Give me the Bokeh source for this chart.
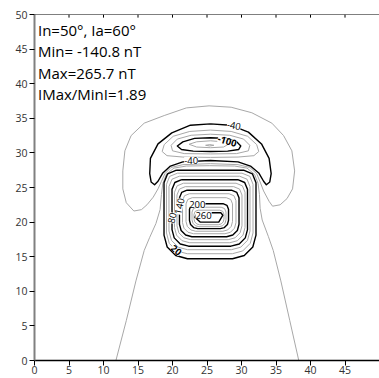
from bokeh.plotting import figure
from bokeh.models import Label, Range1d, FixedTicker, Span
from bokeh.embed import file_html
from bokeh.resources import INLINE

# ---------------- data ----------------
ticks = [0, 5, 10, 15, 20, 25, 30, 35, 40, 45, 50]
info_lines = ["In=50°, Ia=60°", "Min= -140.8 nT", "Max=265.7 nT", "IMax/MinI=1.89"]

# contour levels (nT); black = labelled/index levels
# -20 (grey)
c_m20_x = [25.3, 28.5, 31.5, 34.4, 36.1, 37.3, 37.7, 37.4, 36.6, 35.6, 34.5, 34.0, 33.2, 32.7, 32.2, 31.2, 29.5, 25.5,
           21.5, 19.8, 18.9, 18.4, 17.9, 17.2, 16.3, 15.5, 14.4, 13.3, 12.8, 12.8, 13.1, 14.0, 15.9, 18.8, 22.0, 25.3]
c_m20_y = [36.8, 36.6, 35.8, 34.3, 32.5, 30.3, 27.4, 24.8, 23.4, 22.5, 22.3, 23.0, 24.5, 25.8, 27.0, 27.9, 28.3, 28.45,
           28.3, 27.9, 27.0, 25.9, 24.8, 23.6, 22.5, 21.8, 21.6, 22.8, 24.8, 27.4, 30.3, 32.5, 34.3, 35.4, 36.5, 36.8]
# -40 (black)
c_m40_x = [25.5, 28.4, 31.0, 32.9, 34.0, 34.3, 34.1, 33.6, 33.2, 32.5, 31.3, 29.5, 25.5, 21.5, 19.7, 18.6, 17.9, 17.4,
           16.9, 16.7, 16.8, 17.9, 19.9, 22.6, 25.5]
c_m40_y = [34.2, 34.0, 33.0, 31.3, 29.2, 27.0, 25.8, 25.4, 25.9, 27.1, 28.1, 28.7, 28.9, 28.7, 28.1, 27.1, 25.9, 25.4,
           25.8, 27.0, 29.2, 31.3, 32.9, 34.0, 34.2]
# -60 (grey)
c_m60_x = [25.5, 28.5, 30.9, 32.2, 32.5, 31.8, 29.5, 25.5, 21.5, 19.2, 18.5, 18.8, 20.1, 22.5, 25.5]
c_m60_y = [33.3, 33.1, 32.4, 31.2, 30.2, 29.6, 29.4, 29.35, 29.4, 29.6, 30.2, 31.2, 32.4, 33.1, 33.3]
# -80 (grey)
c_m80_x = [25.5, 28.3, 30.3, 31.2, 31.0, 29.3, 25.5, 21.7, 20.0, 19.8, 20.7, 22.7, 25.5]
c_m80_y = [32.7, 32.55, 32.0, 31.1, 30.3, 29.9, 29.85, 29.9, 30.3, 31.1, 32.0, 32.55, 32.7]
# -100 (black)
c_m100_x = [25.5, 27.8, 29.3, 29.9, 29.6, 28.0, 25.5, 23.0, 21.3, 20.7, 21.5, 23.2, 25.5]
c_m100_y = [32.2, 32.1, 31.6, 31.0, 30.5, 30.25, 30.2, 30.25, 30.5, 31.0, 31.6, 32.1, 32.2]
# -120 (grey)
c_m120_x = [25.5, 27.3, 28.1, 27.4, 25.5, 23.5, 22.4, 23.5, 25.5]
c_m120_y = [31.75, 31.6, 31.25, 30.85, 30.75, 30.85, 31.25, 31.6, 31.75]
# -140 (grey)
c_m140_x = [24.8, 25.4, 26.0, 25.4, 24.8]
c_m140_y = [31.1, 31.2, 31.1, 31.0, 31.1]
# 0 (grey, open to the south)
c_0_x = [11.8, 13.3, 14.7, 15.9, 16.7, 17.6, 18.2, 18.4, 18.6, 19.1, 20.2, 22.0, 25.4,
         29.0, 30.8, 31.9, 32.4, 32.6, 32.7, 33.0, 33.9, 34.6, 35.7, 37.0, 38.3]
c_0_y = [0.0, 5.75, 11.5, 15.9, 17.8, 19.8, 21.8, 24.0, 25.6, 26.9, 27.8, 28.1, 28.15,
         28.1, 27.8, 26.9, 25.6, 24.0, 22.0, 20.3, 17.9, 15.9, 11.5, 5.75, 0.0]
# positive closed contours
c_20_x = [20.57, 30.30, 31.58, 32.10, 32.10, 31.64, 30.40, 28.70, 22.17, 20.47, 19.23, 18.77, 18.77, 19.29]
c_20_y = [27.50, 27.50, 26.98, 25.70, 18.11, 16.41, 15.17, 14.71, 14.71, 15.17, 16.41, 18.11, 25.70, 26.98]
c_40_x = [20.73, 30.07, 31.21, 31.67, 31.67, 31.27, 30.17, 28.67, 22.13, 20.63, 19.53, 19.13, 19.13, 19.59]
c_40_y = [27.07, 27.07, 26.61, 25.47, 18.43, 16.93, 15.83, 15.43, 15.43, 15.83, 16.93, 18.43, 25.47, 26.61]
c_60_x = [20.99, 29.73, 30.80, 31.23, 31.23, 30.87, 29.88, 28.53, 22.19, 20.84, 19.85, 19.49, 19.49, 19.93]
c_60_y = [26.63, 26.63, 26.20, 25.13, 18.71, 17.36, 16.37, 16.01, 16.01, 16.37, 17.36, 18.71, 25.13, 26.20]
c_80_x = [21.33, 29.47, 30.46, 30.87, 30.87, 30.55, 29.67, 28.47, 22.33, 21.13, 20.25, 19.93, 19.93, 20.34]
c_80_y = [26.13, 26.13, 25.72, 24.73, 18.92, 17.72, 16.84, 16.52, 16.52, 16.84, 17.72, 18.92, 24.73, 25.72]
c_100_x = [21.59, 29.21, 30.13, 30.51, 30.51, 30.22, 29.41, 28.31, 22.49, 21.39, 20.58, 20.29, 20.29, 20.67]
c_100_y = [25.62, 25.62, 25.24, 24.32, 19.22, 18.12, 17.31, 17.02, 17.02, 17.31, 18.12, 19.22, 24.32, 25.24]
c_120_x = [21.85, 28.87, 29.72, 30.07, 30.07, 29.80, 29.07, 28.07, 22.65, 21.65, 20.92, 20.65, 20.65, 21.00]
c_120_y = [25.12, 25.12, 24.77, 23.92, 19.46, 18.46, 17.73, 17.46, 17.46, 17.73, 18.46, 19.46, 23.92, 24.77]
c_140_x = [22.11, 28.54, 29.32, 29.64, 29.64, 29.40, 28.74, 27.84, 22.81, 21.91, 21.25, 21.01, 21.01, 21.33]
c_140_y = [24.61, 24.61, 24.29, 23.51, 19.69, 18.79, 18.13, 17.89, 17.89, 18.13, 18.79, 19.69, 23.51, 24.29]
c_160_x = [22.45, 28.20, 28.91, 29.20, 29.20, 28.99, 28.40, 27.60, 23.05, 22.25, 21.66, 21.45, 21.45, 21.74]
c_160_y = [24.10, 24.10, 23.81, 23.10, 19.92, 19.12, 18.53, 18.32, 18.32, 18.53, 19.12, 19.92, 23.10, 23.81]
c_180_x = [22.86, 27.80, 28.44, 28.70, 28.70, 28.51, 28.00, 27.30, 23.36, 22.66, 22.15, 21.96, 21.96, 22.22]
c_180_y = [23.53, 23.53, 23.27, 22.63, 20.08, 19.38, 18.87, 18.68, 18.68, 18.87, 19.38, 20.08, 22.63, 23.27]
c_200_x = [23.26, 27.32, 27.89, 28.12, 28.12, 27.96, 27.52, 26.92, 23.66, 23.06, 22.62, 22.46, 22.46, 22.69]
c_200_y = [22.66, 22.66, 22.43, 21.86, 20.25, 19.65, 19.21, 19.05, 19.05, 19.21, 19.65, 20.25, 21.86, 22.43]
c_220_x = [23.53, 27.05, 27.55, 27.75, 27.75, 27.62, 27.25, 26.75, 23.83, 23.33, 22.96, 22.83, 22.83, 23.03]
c_220_y = [22.15, 22.15, 21.95, 21.45, 20.34, 19.84, 19.47, 19.34, 19.34, 19.47, 19.84, 20.34, 21.45, 21.95]
c_240_x = [23.72, 26.86, 27.29, 27.46, 27.46, 27.35, 27.06, 26.66, 23.92, 23.52, 23.23, 23.12, 23.12, 23.29]
c_240_y = [21.72, 21.72, 21.55, 21.12, 20.42, 20.02, 19.73, 19.62, 19.62, 19.73, 20.02, 20.42, 21.12, 21.55]
c_260_x = [23.6, 27.0, 27.3, 26.7, 24.0, 23.25]
c_260_y = [21.36, 21.36, 21.0, 20.0, 20.0, 20.7]

# contour labels
lab_text = ["-40", "-100", "-40", "200", "260", "140", "80", "20"]
lab_x = [28.9, 27.9, 22.7, 23.6, 24.5, 21.0, 19.93, 20.5]
lab_y = [33.95, 31.65, 28.9, 22.6, 20.95, 22.3, 20.6, 15.9]
lab_angle = [-0.17, -0.3, 0.0, 0.0, 0.0, 1.35, 1.35, -0.7]
lab_bold = [False, True, False, False, False, False, False, True]

# ---------------- figure ----------------
p = figure(width=379, height=378, x_range=Range1d(0, 50), y_range=Range1d(0, 50),
           output_backend="svg", toolbar_location=None,
           min_border_left=34, min_border_right=0, min_border_top=14, min_border_bottom=18)
p.grid.visible = False
p.outline_line_color = None
p.background_fill_color = "white"
p.border_fill_color = "white"

FONT = "Open Sans"

p.xaxis[0].ticker = FixedTicker(ticks=ticks[:-1])
p.yaxis[0].ticker = FixedTicker(ticks=ticks)
for ax in (p.xaxis[0], p.yaxis[0]):
    ax.minor_tick_line_color = None
    ax.major_tick_in = 0
    ax.major_tick_out = 5
    ax.major_label_text_font = FONT
    ax.major_label_text_font_size = "10.5px"
    ax.major_label_text_color = "#333333"
    ax.major_tick_line_color = "#000000"
p.xaxis[0].major_label_standoff = 0
p.yaxis[0].major_label_standoff = 2
p.xaxis[0].axis_line_color = "#000000"
p.xaxis[0].axis_line_width = 1.5
p.yaxis[0].axis_line_color = "#808080"
p.yaxis[0].axis_line_width = 2

# last bottom tick label sits on the window edge (cut like the reference)
p.add_layout(Label(x=ticks[-1], y=-1.85, text=str(ticks[-1]), text_align="center", text_baseline="middle",
                   text_font=FONT, text_font_size="10.5px", text_color="#333333"))

# top frame edge with inward ticks
p.add_layout(Span(location=50, dimension="width", line_color="#000000", line_width=1))
p.segment(x0=ticks, y0=[49.55] * len(ticks), x1=ticks, y1=[50] * len(ticks),
          line_color="#000000", line_width=1)

grey_sets = [(c_m20_x, c_m20_y), (c_m60_x, c_m60_y), (c_m80_x, c_m80_y), (c_m120_x, c_m120_y),
             (c_m140_x, c_m140_y), (c_40_x, c_40_y), (c_60_x, c_60_y), (c_100_x, c_100_y),
             (c_120_x, c_120_y), (c_160_x, c_160_y), (c_180_x, c_180_y), (c_220_x, c_220_y),
             (c_240_x, c_240_y)]
black_sets = [(c_m40_x, c_m40_y), (c_m100_x, c_m100_y), (c_20_x, c_20_y), (c_80_x, c_80_y),
              (c_140_x, c_140_y), (c_200_x, c_200_y), (c_260_x, c_260_y)]

def closed(xs, ys):
    return list(xs) + [xs[0]], list(ys) + [ys[0]]

gx, gy = [], []
for xs, ys in grey_sets:
    a, b = closed(xs, ys)
    gx.append(a); gy.append(b)
gx.append(c_0_x); gy.append(c_0_y)

bx, by = [], []
for xs, ys in black_sets:
    a, b = closed(xs, ys)
    bx.append(a); by.append(b)

p.multi_line(gx, gy, line_color="#a8a8a8", line_width=1, line_join="round")
p.multi_line(bx, by, line_color="#000000", line_width=1.4, line_join="round")

for t, x, y, a, bold in zip(lab_text, lab_x, lab_y, lab_angle, lab_bold):
    p.add_layout(Label(x=x, y=y, text=t, angle=a, text_align="center", text_baseline="middle",
                       text_font=FONT, text_font_size="9.5px",
                       text_font_style="bold" if bold else "normal",
                       text_color="#000000",
                       background_fill_color="white"))

info_y = [47.8, 44.75, 41.6, 38.55]
for t, y in zip(info_lines, info_y):
    p.add_layout(Label(x=0.5, y=y, text=t, text_align="left", text_baseline="middle",
                       text_font=FONT, text_font_size="15px", text_color="#000000"))

html = file_html(p, INLINE)
html = html.replace("<head>", "<head><style>html,body{margin:0;overflow:hidden;}</style>", 1)
open("out.html", "w").write(html)
